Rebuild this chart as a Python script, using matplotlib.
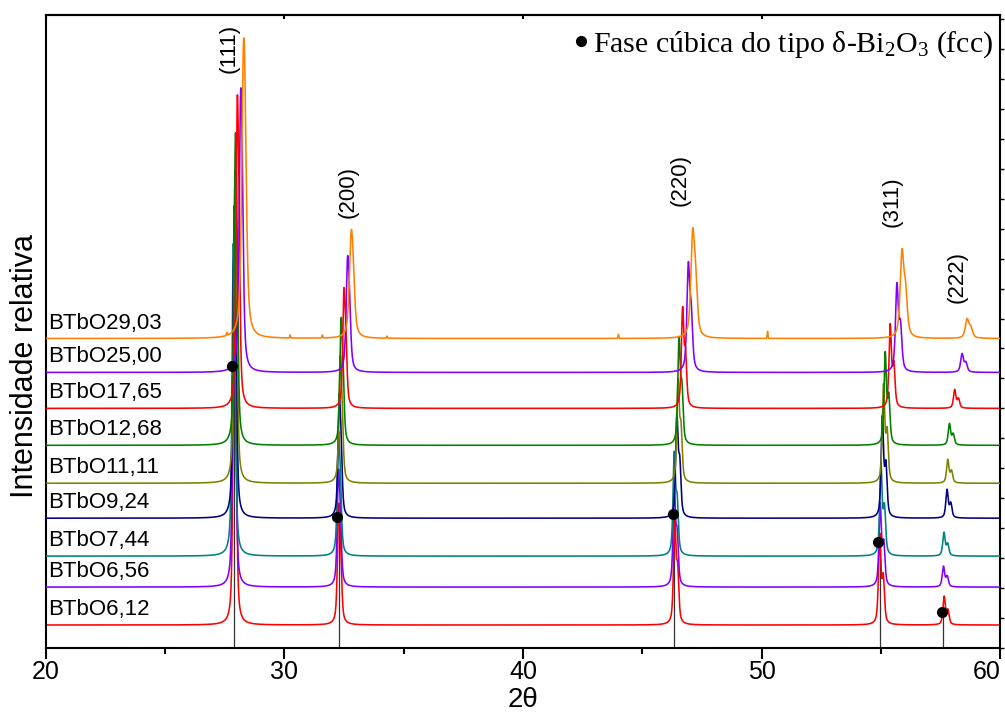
import numpy as np
import matplotlib.pyplot as plt
from matplotlib.ticker import MultipleLocator
from matplotlib.lines import Line2D

plt.rcParams['font.family'] = ['Liberation Sans', 'DejaVu Sans']
plt.rcParams['mathtext.fontset'] = 'custom'
plt.rcParams['mathtext.rm'] = 'Liberation Serif'
plt.rcParams['mathtext.it'] = 'Liberation Serif:italic'

# samples from bottom to top
samples = ['BTbO6,12', 'BTbO6,56', 'BTbO7,44', 'BTbO9,24', 'BTbO11,11',
           'BTbO12,68', 'BTbO17,65', 'BTbO25,00', 'BTbO29,03']
colors = ['#FF0000', '#8000FF', '#008080', '#000080', '#808000',
          '#008000', '#FF0000', '#8000FF', '#FF8000']
offsets = [23, 61, 92, 130, 165, 203, 240, 276, 310]

# peak positions (2theta) and heights for each sample
pos_111 = [27.90, 27.88, 27.86, 27.90, 27.93, 27.95, 28.03, 28.17, 28.29]
pos_200 = [32.28, 32.27, 32.27, 32.30, 32.34, 32.38, 32.50, 32.65, 32.80]
pos_220 = [46.36, 46.34, 46.34, 46.45, 46.50, 46.54, 46.69, 46.93, 47.11]
pos_311 = [54.95, 54.97, 55.00, 55.06, 55.11, 55.18, 55.39, 55.67, 55.88]
pos_222 = [57.65, 57.62, 57.64, 57.77, 57.80, 57.87, 58.09, 58.40, 58.61]

h_111 = [313, 290, 313, 313, 313, 313, 314, 285, 301]
h_200 = [122, 118, 125, 125, 128, 128, 121, 117, 109]
h_220 = [105, 100, 105, 105, 105, 109, 102, 111, 111]
h_311 = [92, 85, 94, 103, 100, 94, 85, 90, 90]
h_222 = [29, 21, 24, 29, 24, 22, 19, 19, 20]
fwhm = [0.12, 0.12, 0.12, 0.12, 0.12, 0.12, 0.12, 0.14, 0.18]

# small spurious spikes in the top pattern
spike_pos = [27.6, 30.25, 31.6, 34.3, 44.0, 50.25]
spike_h = [3, 3, 3, 2, 4, 7]

# delta-Bi2O3 markers and drop lines
dot_x = [27.82, 32.22, 46.28, 54.88, 57.55]
dot_y = [282, 131, 134, 106, 36]
line_x = [27.90, 32.28, 46.34, 54.95, 57.62]

hkl = ['(111)', '(200)', '(220)', '(311)', '(222)']
hkl_x = [27.69, 32.68, 46.60, 55.45, 58.20]
hkl_y = [576, 431, 443, 422, 346]

x = np.linspace(20, 60, 8001)


def pv(x, x0, w, eta=0.6):
    d = 4 * (x - x0) ** 2 / w ** 2
    return eta / (1 + d) + (1 - eta) * np.exp(-np.log(2) * d)


def peak(x0, h, w):
    # Ka1 + Ka2 doublet, scaled so the top equals h
    shift = np.degrees(2 * np.tan(np.radians(x0 / 2)) * 0.00248)
    p = pv(x, x0, w) + 0.5 * pv(x, x0 + shift, w)
    return h * p / p.max()


fig = plt.figure(figsize=(10.05, 7.16), dpi=100)
ax = fig.add_axes([0.0453, 0.095, 0.950, 0.884])

ax.vlines(line_x, 0, dot_y, color='#333333', lw=0.9, zorder=1)

for i in range(len(samples)):
    y = np.zeros_like(x)
    for pos, h in [(pos_111, h_111), (pos_200, h_200), (pos_220, h_220),
                   (pos_311, h_311), (pos_222, h_222)]:
        y += peak(pos[i], h[i], fwhm[i])
    if i == len(samples) - 1:
        for sp, sh in zip(spike_pos, spike_h):
            y += sh * pv(x, sp, 0.04, eta=0.0)
    ax.plot(x, y + offsets[i], color=colors[i], lw=1.15, zorder=2 + i)
    ax.text(20.1, offsets[i] + 5, samples[i], fontsize=16, ha='left', va='bottom', zorder=20)

ax.plot(dot_x, dot_y, 'o', color='k', ms=7, zorder=30)

for lab, lx, ly in zip(hkl, hkl_x, hkl_y):
    ax.text(lx, ly, lab, rotation=90, fontsize=16, ha='center', va='bottom')

handle = Line2D([], [], ls='none', marker='o', color='k', ms=7)
ax.legend([handle], ['Fase cúbica do tipo δ-Bi$_2$O$_3$ (fcc)'], loc='upper right',
          bbox_to_anchor=(0.9927, 0.978), borderaxespad=0, borderpad=0,
          handlelength=0.4, handletextpad=0.2, frameon=False,
          prop={'family': 'Liberation Serif', 'size': 21.5})

ax.set_xlim(20, 60)
ax.set_ylim(0, 634)
ax.xaxis.set_major_locator(MultipleLocator(10))
ax.xaxis.set_minor_locator(MultipleLocator(5))
ax.tick_params(axis='x', which='major', direction='out', length=8, width=1.5, labelsize=18, pad=1)
ax.tick_params(axis='x', which='minor', direction='out', length=4.5, width=1.5)

# the "60" label sits flush inside the right edge, as in the original
locs = list(ax.xaxis.get_majorticklocs())
ticks = ax.xaxis.get_major_ticks(len(locs))
for loc, tick in zip(locs, ticks):
    if abs(loc - 60) < 1e-6:
        tick.label1.set_horizontalalignment('right')

ax.yaxis.set_ticks_position('right')
ax.yaxis.set_major_locator(MultipleLocator(30))
ax.tick_params(axis='y', direction='out', length=3, width=1, labelright=False, labelleft=False)

sec = ax.secondary_xaxis('top')
sec.xaxis.set_major_locator(MultipleLocator(10))
sec.tick_params(direction='in', length=3, width=1.5, labeltop=False)
sec.spines['top'].set_linewidth(1.5)

for s in ax.spines.values():
    s.set_linewidth(1.5)

ax.set_xlabel('2θ', fontsize=20, labelpad=2)
ax.set_ylabel('Intensidade relativa', fontsize=22)
ax.yaxis.set_label_position('left')
ax.yaxis.set_label_coords(-0.006, 0.445)

fig.savefig('out.png', dpi=100)
